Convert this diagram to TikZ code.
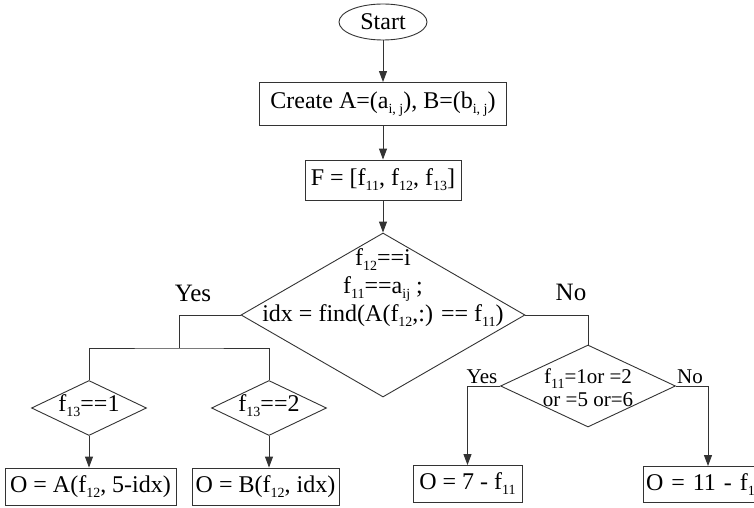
\documentclass[tikz,border=0pt]{standalone}
\usepackage{fontspec}
\setmainfont{Liberation Serif}
\usetikzlibrary{shapes.geometric,arrows.meta}
\newcommand\sbs[1]{\raisebox{-0.45ex}{\fontsize{14}{15}\selectfont #1}}
\begin{document}
\begin{tikzpicture}[x=1pt,y=-1pt,
  ln/.style={draw=black!80,line width=0.9pt},
  arr/.style={ln,-{Triangle[length=11pt,width=8pt]}},
  big/.style={font=\fontsize{24}{28}\selectfont},
  box/.style={ln,rectangle,inner sep=2pt,big},
  dia/.style={ln,diamond,inner sep=0pt},
  txt/.style={inner sep=0pt,big},
  lab/.style={inner sep=0pt,font=\fontsize{25}{28}\selectfont},
  slab/.style={inner sep=0pt,font=\fontsize{21}{24}\selectfont}]
\useasboundingbox (0,0) rectangle (754,508);
\clip (0,0) rectangle (754,508);

% start and set-up boxes
\node[ln,ellipse,minimum width=88pt,minimum height=36pt,inner sep=0pt,big] (start) at (383,22) {Start};
\node[box,minimum width=247pt,minimum height=43pt] (create) at (383,104) {Create A=(a\sbs{i, j}), B=(b\sbs{i, j})};
\node[box,minimum width=156pt,minimum height=40pt] (fvec) at (383,180) {F = [f\sbs{11}, f\sbs{12}, f\sbs{13}]};

% main decision
\node[dia,minimum width=284pt,minimum height=164pt] (dmain) at (383,315) {};
\node[txt,align=center] (dmaintxt) at (383,288) {f\sbs{12}==i\\ f\sbs{11}==a\sbs{ij} ;\\ idx = find(A(f\sbs{12},:) == f\sbs{11})};

% yes side
\coordinate (yj) at (179,348);
\node[dia,minimum width=115pt,minimum height=55pt] (dA) at (89,408) {};
\node[txt] (dAtxt) at (89,406) {f\sbs{13}==1};
\node[dia,minimum width=115pt,minimum height=55pt] (dB) at (269,408) {};
\node[txt] (dBtxt) at (269,406) {f\sbs{13}==2};
\node[box,minimum width=171pt,minimum height=37pt] (oA) at (90.5,486.5) {O = A(f\sbs{12}, 5-idx)};
\node[box,minimum width=147pt,minimum height=37pt] (oB) at (265.5,486.5) {O = B(f\sbs{12}, idx)};

% no side
\node[dia,minimum width=175pt,minimum height=82pt] (dC) at (588,386) {};
\node[inner sep=0pt,align=center,font=\fontsize{21}{23}\selectfont] (dCtxt) at (588,388) {f\sbs{11}=1or =2\\ or =5 or=6};
\node[box,minimum width=109pt,minimum height=37pt] (oC) at (467.5,484) {O = 7 - f\sbs{11}};
\node[box,minimum width=130pt,minimum height=36pt,text width=124pt,align=left] (oD) at (708,484.5) {O = 11 - f\sbs{11}};

% branch labels
\node[lab] (lyes) at (193,293) {Yes};
\node[lab] (lno) at (571,292) {No};
\node[slab] (lyes2) at (482,377) {Yes};
\node[slab] (lno2) at (690,377) {No};

% connectors
\draw[arr] (start) -- (create);
\draw[arr] (create) -- (fvec);
\draw[arr] (fvec) -- (dmain.north);
\draw[ln] (dmain.west) -| (yj);
\draw[ln] (dA.north) |- (yj) -| (dB.north);
\draw[arr] (dA.south) -- (oA.north -| dA.south);
\draw[arr] (dB.south) -- (oB.north -| dB.south);
\draw[ln] (dmain.east) -| (dC.north);
\draw[arr] (dC.west) -| (oC.north);
\draw[arr] (dC.east) -| (oD.north);
\end{tikzpicture}
\end{document}
